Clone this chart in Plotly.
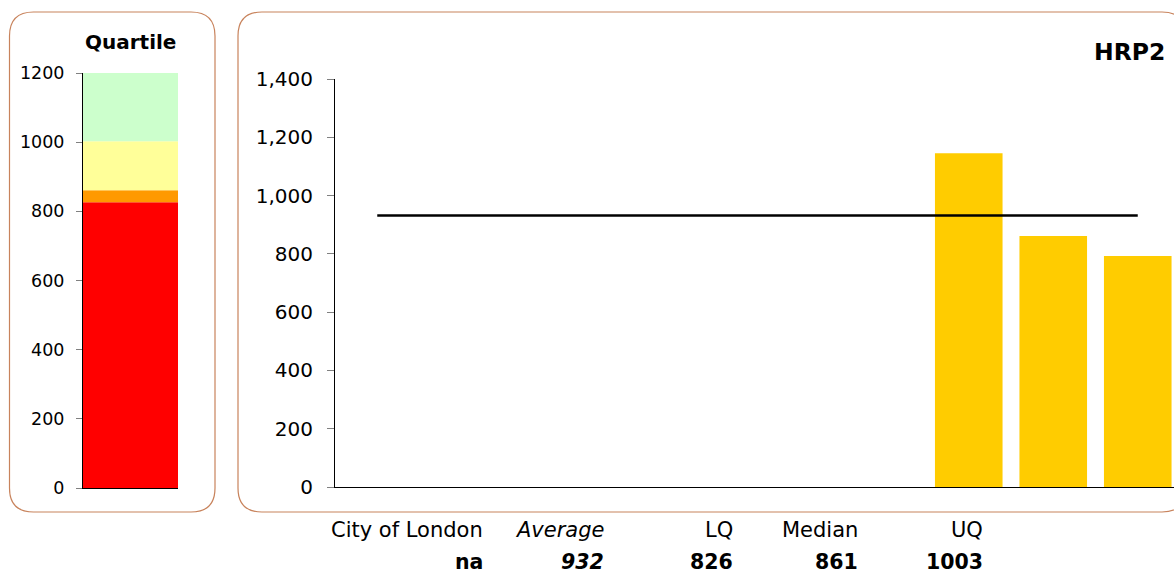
import plotly.graph_objects as go

W, H = 1174, 575

# ---- data ----
quartile_names = ["LQ", "Median", "UQ", "Max"]
quartile_bounds = [826, 861, 1003, 1200]
quartile_colors = ["#FF0000", "#FF9900", "#FFFF99", "#CCFFCC"]

categories = ["c1", "c2", "c3", "c4", "c5", "c6", "c7", "c8", "c9", "c10"]
bar_values = [None, None, None, None, None, None, None, 1145, 861, 793]
avg_values = [932, 932, 932, 932, 932, 932, 932, 932, 932, 932]

table_labels = ["City of London", "Average", "LQ", "Median", "UQ"]
table_values = ["na", "932", "826", "861", "1003"]

FONT = "DejaVu Sans"


def px(x):
    return x / W


def py(y):
    return 1 - y / H


fig = go.Figure()

# left stacked quartile bar
prev = 0
for name, b, c in zip(quartile_names, quartile_bounds, quartile_colors):
    fig.add_trace(go.Bar(x=[0], y=[b - prev], base=[prev], width=[1], marker=dict(color=c, line=dict(width=0)),
                         xaxis="x", yaxis="y", showlegend=False, name=name))
    prev = b

# right chart bars
xs = list(range(len(categories)))
fig.add_trace(go.Bar(x=xs, y=bar_values, width=0.8, marker=dict(color="#FFCC00", line=dict(width=0)),
                     xaxis="x2", yaxis="y2", showlegend=False))
fig.add_trace(go.Scatter(x=xs, y=avg_values, mode="lines", line=dict(color="#000000", width=2.5),
                         xaxis="x2", yaxis="y2", showlegend=False))

axis_common = dict(showgrid=False, zeroline=False, showline=True, linecolor="#000000", linewidth=1,
                   automargin=False)

fig.update_layout(
    width=W, height=H, autosize=False,
    margin=dict(l=0, r=0, t=0, b=0, pad=0, autoexpand=False),
    paper_bgcolor="white", plot_bgcolor="white",
    barmode="overlay",
    font=dict(family=FONT, size=17, color="#000000"),
    xaxis=dict(domain=[px(83), px(178)], range=[-0.5, 0.5], showticklabels=False, ticks="",
               anchor="y", **axis_common),
    yaxis=dict(domain=[py(488), py(73)], range=[0, 1200], dtick=200, tickformat="d",
               ticks="outside", ticklen=6, tickcolor="#808080", ticklabelstandoff=8,
               tickfont=dict(size=17.5), anchor="x", **axis_common),
    xaxis2=dict(domain=[px(335), 1], range=[-0.5, -0.5 + (W - 335) / 84.5], showticklabels=False, ticks="",
                anchor="y2", **axis_common),
    yaxis2=dict(domain=[py(487), py(79)], range=[0, 1400], dtick=200, tickformat=",d",
                ticks="outside", ticklen=7, tickcolor="#808080", ticklabelstandoff=10,
                tickfont=dict(size=20), anchor="x2", **axis_common),
)


def rrect(x0, y0, x1, y1, r):
    path = (f"M {px(x0 + r)},{py(y0)} L {px(x1 - r)},{py(y0)} "
            f"Q {px(x1)},{py(y0)} {px(x1)},{py(y0 + r)} "
            f"L {px(x1)},{py(y1 - r)} Q {px(x1)},{py(y1)} {px(x1 - r)},{py(y1)} "
            f"L {px(x0 + r)},{py(y1)} Q {px(x0)},{py(y1)} {px(x0)},{py(y1 - r)} "
            f"L {px(x0)},{py(y0 + r)} Q {px(x0)},{py(y0)} {px(x0 + r)},{py(y0)} Z")
    return dict(type="path", path=path, xref="paper", yref="paper",
                line=dict(color="#C8835C", width=1.2), layer="below")


fig.add_shape(**rrect(9.5, 12, 215, 512, 24))
fig.add_shape(**rrect(238, 12, 1186, 512, 24))

# titles
fig.add_annotation(text="<b>Quartile</b>", x=px(130), y=py(42), xref="paper", yref="paper",
                   showarrow=False, xanchor="center", yanchor="middle", font=dict(size=20))
fig.add_annotation(text="<b>HRP2</b>", x=px(1167), y=py(52), xref="paper", yref="paper",
                   showarrow=False, xanchor="right", yanchor="middle", font=dict(size=23.5))

# table below chart
col_right = [483, 604, 733, 858, 983]
for i, (lab, val) in enumerate(zip(table_labels, table_values)):
    t1 = f"<i>{lab}</i>" if lab == "Average" else lab
    t2 = f"<b><i>{val}</i></b>" if lab == "Average" else f"<b>{val}</b>"
    fig.add_annotation(text=t1, x=px(col_right[i] + 1), y=py(530), xref="paper", yref="paper",
                       showarrow=False, xanchor="right", yanchor="middle", borderpad=0,
                       font=dict(size=21))
    fig.add_annotation(text=t2, x=px(col_right[i] + 1), y=py(575), xref="paper", yref="paper",
                       showarrow=False, xanchor="right", yanchor="bottom", borderpad=0,
                       font=dict(size=20.5))

fig.write_html("out.html", config={"displayModeBar": False},
               post_script="document.body.style.margin='0px';document.body.style.overflow='hidden';")
